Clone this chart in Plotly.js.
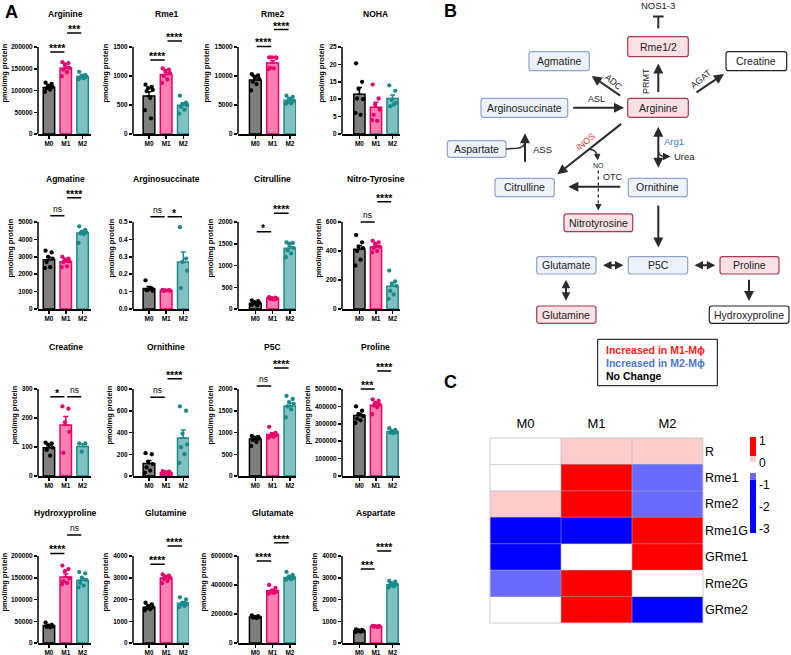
<!DOCTYPE html>
<html><head><meta charset="utf-8">
<script src="https://cdn.plot.ly/plotly-3.0.1.min.js"></script>
<style>html,body{margin:0;padding:0;background:#fff}#chart{width:791px;height:655px}</style>
</head><body><div id="chart"></div>
<script>
const W=791,H=655;
const FONT='Liberation Sans, Arial, sans-serif';
const groups=['M0','M1','M2'];

// ---------- Panel A data ----------
const titles=['Arginine','Rme1','Rme2','NOHA','Agmatine','Arginosuccinate','Citrulline','Nitro-Tyrosine','Creatine','Ornithine','P5C','Proline','Hydroxyproline','Glutamine','Glutamate','Aspartate'];
const yMax=[200000,1500,15000,25,5000,0.5,2000,600,300,800,2000,500000,200000,4000,600000,4000];
const yStep=[50000,500,5000,5,1000,0.1,500,200,100,200,500,100000,50000,1000,200000,1000];
const barM0=[107000,655,9300,11.4,2830,0.118,135,412,97,116,850,347000,40000,1640,180000,560];
const barM1=[151000,1025,12250,7.7,2720,0.107,247,428,176,30,955,407000,152000,2985,360000,760];
const barM2=[132000,496,5820,10.2,4370,0.27,1395,157,102,349,1610,256000,144000,1830,452000,2690];
const ptsM0=[
 [118000,115000,111000,108000,105000,102000,97000],
 [850,810,790,760,740,620,410,270],
 [10300,10100,9900,9500,9000,8600,7500],
 [20.3,15.0,13.0,10.0,10.2,5.5,6.0],
 [3350,3250,3000,2900,2700,2400,2350],
 [0.165,0.118,0.11,0.105,0.108],
 [200,180,160,140,120,100,90,80],
 [510,460,430,420,400,340,300],
 [115,112,108,98,90,70],
 [210,200,130,110,80,50,30],
 [920,900,880,860,830,780,690],
 [400000,375000,355000,345000,330000,320000,305000],
 [47000,42000,40000,38000,37000,36000],
 [1850,1780,1700,1650,1600,1550,1500],
 [190000,185000,180000,178000,175000,172000],
 [620,600,580,560,540,520,500]];
const ptsM1=[
 [165000,163000,160000,152000,148000,142000,133000],
 [1130,1110,1090,1050,1000,940,880],
 [13200,13200,13200,13100,11400,11300,11200],
 [14.2,10.2,8.5,7.0,5.5,3.8,4.0],
 [3000,2900,2850,2750,2700,2450,2400],
 [0.11,0.108,0.107,0.105,0.104],
 [270,260,250,240,230,220],
 [470,460,450,430,420,400,390],
 [240,232,185,152,80],
 [45,40,35,30,25,20,18],
 [1130,990,960,940,920,900,880],
 [440000,432000,420000,412000,405000,395000,355000],
 [178000,170000,165000,148000,142000,138000,135000],
 [3150,3100,3050,3000,2950,2850,2750],
 [400000,380000,362000,355000,350000,345000,340000],
 [790,780,770,760,750,740]];
const ptsM2=[
 [143000,136000,134000,132000,130000,128000,126000],
 [660,540,520,500,470,420,350],
 [6600,6400,6100,5700,5500,5300,5200],
 [14.0,12.4,9.8,9.0,8.0,8.5],
 [4750,4550,4450,4400,4350,4300,3800],
 [0.47,0.29,0.27,0.22,0.12],
 [1530,1520,1500,1400,1350,1280,1190],
 [265,190,175,160,125,100,70],
 [112,112,84],
 [640,600,390,290,265,200,120],
 [1840,1770,1700,1660,1600,1530,1350],
 [275000,265000,258000,252000,248000,245000],
 [163000,160000,150000,145000,138000,132000,128000],
 [2100,2000,1850,1800,1750,1700,1650],
 [490000,470000,460000,450000,445000,440000,435000],
 [2850,2820,2750,2700,2650,2600,2550]];
// significance: [from, to, label, level]
const sigs=[
 [[0,1,'****',188500],[1,2,'***',232000]],
 [[0,1,'****',1276],[1,2,'****',1603]],
 [[0,1,'****',15100],[1,2,'****',18000]],
 [],
 [[0,1,'ns',5362],[1,2,'****',6397]],
 [[0,1,'ns',0.53],[1,2,'*',0.53]],
 [[0,1,'*',1777],[1,2,'****',2200]],
 [[0,1,'ns',600],[1,2,'****',740]],
 [[0,1,'*',273],[1,2,'ns',273]],
 [[0,1,'ns',725],[1,2,'****',894]],
 [[0,1,'ns',2069],[1,2,'****',2483]],
 [[0,1,'***',500000],[1,2,'****',603000]],
 [[0,1,'****',206000],[1,2,'ns',248000]],
 [[0,1,'****',3618],[1,2,'****',4460]],
 [[0,1,'****',565000],[1,2,'****',692000]],
 [[0,1,'***',3400],[1,2,'****',4230]]];

// ---------- Panel C data ----------
const hmCols=['M0','M1','M2'];
const hmRows=['R','Rme1','Rme2','Rme1G','GRme1','Rme2G','GRme2'];
const hmZ=[[-0.25,0.1,0.1],[-0.25,1,-0.6],[0.1,1,-0.6],[-3,-3,1],[-3,-0.25,1],[-0.6,1,-0.25],[-0.25,1,-3]];
const cbTicks=[1,0,-1,-2,-3];

// ---------- Panel B text ----------
const legendLines=['Increased in M1-Mϕ','Increased in M2-Mϕ','No Change'];

// ---------- layout helpers ----------
const data=[],shapes=[],annotations=[];
const layout={width:W,height:H,margin:{l:0,r:0,t:0,b:0,pad:0},showlegend:false,paper_bgcolor:'#ffffff',plot_bgcolor:'rgba(0,0,0,0)',barmode:'overlay',font:{family:FONT,color:'#000'},shapes:shapes,annotations:annotations,hovermode:false};
const colPx=[[38,91],[133,189],[238,296],[342,400]];
const colRange=[[-0.65,2.5],[-0.93,2.33],[-1.0,2.35],[-1.05,2.45]];
const rowZero=[134,309,476,643];
const titleY=[14,179,347,513];
const F=1.4;
const fillC=['#7f7f7f','#ff80b0','#80c0c0'];
const lineC=['#000000','#e8006f','#1b8a8a'];
const JIT=[-0.2,0.16,-0.05,0.22,-0.14,0.07,-0.24,0.12,0.0];
const ptsAll=[ptsM0,ptsM1,ptsM2], barsAll=[barM0,barM1,barM2];
function sem(a){const n=a.length,m=a.reduce((s,v)=>s+v,0)/n;const sd=Math.sqrt(a.reduce((s,v)=>s+(v-m)*(v-m),0)/(n-1));return sd/Math.sqrt(n);}

for(let i=0;i<16;i++){
  const n=i+1,s=n===1?'':String(n);
  const r=Math.floor(i/4),c=i%4;
  const xk='x'+s,yk='y'+s;
  const z=rowZero[r],top=z-87*F;
  layout['xaxis'+s]={domain:[colPx[c][0]/W,colPx[c][1]/W],anchor:yk,range:colRange[c],tickvals:[0,1,2],ticktext:groups,
    ticks:'outside',ticklen:3,tickwidth:1.5,tickcolor:'#000',showline:true,linewidth:1.5,linecolor:'#000',showgrid:false,zeroline:false,
    tickfont:{size:6.5,family:FONT,weight:700},fixedrange:true};
  const tv=[],tt=[];
  const nt=Math.round(yMax[i]/yStep[i]);
  for(let k=0;k<=nt;k++){const v=k*yStep[i];tv.push(v);tt.push(yStep[i]<1?v.toFixed(1):String(Math.round(v)));}
  layout['yaxis'+s]={domain:[1-z/H,1-top/H],anchor:xk,range:[0,yMax[i]*F],tickvals:tv,ticktext:tt,ticks:'outside',ticklen:3,tickwidth:1.5,tickcolor:'#000',
    showline:false,showgrid:false,zeroline:false,tickfont:{size:6.5,family:FONT,weight:700},fixedrange:true,
    title:{text:'pmol/mg protein',font:{size:7.5,family:FONT,weight:700},standoff:3}};
  shapes.push({type:'line',xref:xk+' domain',yref:yk,x0:0,x1:0,y0:0,y1:yMax[i],line:{color:'#000',width:1.5}});
  for(let g=0;g<3;g++){
    const pts=ptsAll[g][i];
    data.push({type:'bar',x:[g],y:[barsAll[g][i]],width:0.68,xaxis:xk,yaxis:yk,
      marker:{color:fillC[g],line:{color:lineC[g],width:1.5}},
      error_y:{type:'data',array:[sem(pts)],arrayminus:[0],symmetric:false,color:lineC[g],thickness:1.5,width:2.5}});
    data.push({type:'scatter',mode:'markers',x:pts.map((v,k)=>g+JIT[k%JIT.length]),y:pts,xaxis:xk,yaxis:yk,cliponaxis:false,
      marker:{size:4.3,color:lineC[g]}});
  }
  for(const [a,b,t,lv] of sigs[i]){
    shapes.push({type:'line',xref:xk,yref:yk,x0:a+0.08,x1:b-0.08,y0:lv,y1:lv,line:{color:'#000',width:1.5}});
    const ns=t==='ns';
    annotations.push({xref:xk,yref:yk,x:(a+b)/2,y:lv,text:t,showarrow:false,yanchor:'bottom',yshift:ns?0:-4,
      font:{size:ns?8.5:10.5,family:FONT,weight:ns?400:700}});
  }
  annotations.push({xref:xk,yref:'paper',x:1,y:1-titleY[r]/H,text:titles[i],showarrow:false,yanchor:'middle',font:{size:8.5,family:FONT,weight:700}});
}

// ---------- Heatmap (C) ----------
const zmin=-3.2,zmax=1.15,sp=zmax-zmin,t=v=>(v-zmin)/sp;
data.push({type:'heatmap',x:hmCols,y:hmRows,z:hmZ,xaxis:'x17',yaxis:'y17',zmin:zmin,zmax:zmax,
  colorscale:[[0,'#0000ff'],[t(-0.8),'#0000ff'],[t(-0.8),'#6a6aff'],[t(-0.5),'#6a6aff'],[t(-0.5),'#ffffff'],[t(0),'#ffffff'],[t(0),'#ffcccc'],[t(0.3),'#ffcccc'],[t(0.3),'#ff0000'],[1,'#ff0000']],
  colorbar:{x:750/W,xanchor:'left',y:1-485/H,yanchor:'middle',lenmode:'pixels',len:96,thickness:6,outlinewidth:0,xpad:0,ypad:0,
    tickvals:cbTicks,ticktext:cbTicks.map(String),ticks:'',tickfont:{size:12,family:FONT}}});
layout.xaxis17={domain:[490/W,703/W],anchor:'y17',side:'top',ticks:'',showline:false,showgrid:false,zeroline:false,tickfont:{size:13,family:FONT},ticklabelstandoff:6,fixedrange:true};
layout.yaxis17={domain:[1-623/H,1-438/H],anchor:'x17',side:'right',autorange:'reversed',ticks:'',showline:false,showgrid:false,zeroline:false,tickfont:{size:12.5,family:FONT},ticklabelstandoff:1,fixedrange:true};
// cell separators
const GRID='rgba(170,170,190,0.55)';
for(let k=0;k<hmCols.length-1;k++) shapes.push({type:'line',xref:'x17',yref:'y17 domain',x0:k+0.5,x1:k+0.5,y0:0,y1:1,line:{color:GRID,width:1}});
for(let k=0;k<hmRows.length-1;k++) shapes.push({type:'line',xref:'x17 domain',yref:'y17',x0:0,x1:1,y0:k+0.5,y1:k+0.5,line:{color:GRID,width:1}});
shapes.push({type:'rect',xref:'x17 domain',yref:'y17 domain',x0:0,x1:1,y0:0,y1:1,line:{color:'rgba(200,200,210,0.9)',width:1}});

// ---------- Diagram (B) ----------
const px=x=>x/W, py=y=>1-y/H;
const Pp=(x,y)=>px(x).toFixed(5)+','+py(y).toFixed(5);
function rrect(x0,y0,x1,y1,r){
  return 'M'+Pp(x0+r,y0)+' L'+Pp(x1-r,y0)+' Q'+Pp(x1,y0)+' '+Pp(x1,y0+r)+' L'+Pp(x1,y1-r)+' Q'+Pp(x1,y1)+' '+Pp(x1-r,y1)+
   ' L'+Pp(x0+r,y1)+' Q'+Pp(x0,y1)+' '+Pp(x0,y1-r)+' L'+Pp(x0,y0+r)+' Q'+Pp(x0,y0)+' '+Pp(x0+r,y0)+' Z';
}
const STY={red:['#f9e1e5','#a53a52'],blue:['#eef2fa','#8fa3cf'],white:['#ffffff','#222222']};
function box(x0,y0,x1,y1,sty,text){
  shapes.push({type:'path',xref:'paper',yref:'paper',path:rrect(x0,y0,x1,y1,2.5),fillcolor:STY[sty][0],line:{color:STY[sty][1],width:1.2}});
  annotations.push({xref:'paper',yref:'paper',x:px((x0+x1)/2),y:py((y0+y1)/2),text:text,showarrow:false,xanchor:'center',yanchor:'middle',font:{size:10.5,family:FONT,color:'#222'}});
}
function label(x,y,text,opt){
  opt=opt||{};
  annotations.push({xref:'paper',yref:'paper',x:px(x),y:py(y),text:text,showarrow:false,xanchor:opt.anchor||'center',yanchor:'middle',textangle:opt.angle||0,
    font:{size:opt.size||9.5,family:FONT,color:opt.color||'#222',weight:opt.weight||400}});
}
function arrow(tx,ty,hx,hy,both,w,sz){
  annotations.push({xref:'paper',yref:'paper',x:px(hx),y:py(hy),ax:tx-hx,ay:ty-hy,axref:'pixel',ayref:'pixel',text:'',showarrow:true,
    arrowhead:2,startarrowhead:2,arrowsize:sz||1,startarrowsize:sz||1,arrowwidth:w||2,arrowcolor:'#2b2b2b',standoff:0,startstandoff:0,arrowside:both?'end+start':'end'});
}
function line(x0,y0,x1,y1,w,dash){shapes.push({type:'line',xref:'paper',yref:'paper',x0:px(x0),y0:py(y0),x1:px(x1),y1:py(y1),line:{color:'#2b2b2b',width:w||2,dash:dash||'solid'}});}
function curve(path){shapes.push({type:'path',xref:'paper',yref:'paper',path:path,line:{color:'#2b2b2b',width:1.5}});}

box(627.7,36.7,688.3,56.7,'red','Rme1/2');
box(529,51.7,589.3,70.7,'blue','Agmatine');
box(726,51.7,786.7,70.7,'white','Creatine');
box(481,98.3,567.7,117.3,'blue','Arginosuccinate');
box(627.7,98.3,688.3,117.3,'red','Arginine');
box(447.3,140.7,506,157.3,'blue','Aspartate');
box(495,178.3,554.3,196.7,'blue','Citrulline');
box(628.3,178.3,687.3,196.7,'blue','Ornithine');
box(564,213.8,632.7,231.7,'red','Nitrotyrosine');
box(536.7,256.7,596,274,'blue','Glutamate');
box(628.3,256.7,687.7,274,'blue','P5C');
box(720,256.7,779,274,'red','Proline');
box(536.7,306,596,323.3,'red','Glutamine');
box(709.3,306,789,323.3,'white','Hydroxyproline');

// NOS1-3 inhibition
label(658.3,6,'NOS1-3',{size:9.5});
line(653,16.5,663.6,16.5,2); line(658.3,16.5,658.3,28.5,2);
// arrows
arrow(658.3,93.5,658.3,63.5);
label(646.5,81.5,'PRMT',{angle:-90,size:9});
arrow(621.7,96.7,591.7,76);
label(613.5,82,'ADC',{angle:40,size:9});
arrow(695,93.3,724,74);
label(701,79,'AGAT',{angle:-40,size:9});
arrow(571.7,107.7,624,107.7);
label(596,99,'ASL',{size:9});
arrow(622.7,122.7,557.3,174.3);
label(585.5,142,'iNOS',{angle:-40,size:9,color:'#e53935'});
// NO branch
curve('M'+Pp(589.5,149.5)+' Q'+Pp(596,149)+' '+Pp(597.3,156.5));
arrow(597.3,155.5,597.8,160.5,false,1.3);
label(598.3,165.5,'NO',{size:7});
line(598.3,170.5,598.3,206,1.3,'dot');
arrow(598.3,205,598.3,210.5,false,1.3);
// OTC
arrow(621.7,186.7,568.3,186.7);
label(612.5,177.3,'OTC',{size:9});
// Arg1
arrow(658.3,169.3,658.3,126.7,true);
label(661.5,141.7,'Arg1',{size:9.5,color:'#3b82d6',anchor:'left'});
curve('M'+Pp(658.3,151.5)+' Q'+Pp(659,156.5)+' '+Pp(665,156.5));
arrow(664,156.5,670.5,156.5,false,1.5);
label(671.5,156.7,'Urea',{size:9.5,anchor:'left'});
// ASS
arrow(525,163.3,525,133.3);
curve('M'+Pp(506,149)+' L'+Pp(517,148.3)+' Q'+Pp(524.5,147.5)+' '+Pp(525,142));
label(531,149,'ASS',{size:9.5,anchor:'left'});
// lower part
arrow(658.3,204,658.3,247.5);
arrow(601.5,265.3,623.5,265.3,true,2,0.85);
arrow(693,265.3,715.3,265.3,true,2,0.85);
arrow(566,278.3,566,300.7,true,2,0.85);
arrow(749,278.3,749,301);

// legend box
shapes.push({type:'rect',xref:'paper',yref:'paper',x0:px(597.7),x1:px(717.3),y0:py(339.3),y1:py(385.7),line:{color:'#000',width:1},fillcolor:'#fff'});
const legC=['#ff1a1a','#4a78d0','#000000'];
legendLines.forEach((tx,k)=>label(603.5,349.5+13.3*k,tx,{anchor:'left',size:10.5,weight:700,color:legC[k]}));

// panel letters
label(11,12,'A',{size:18,weight:700,color:'#000'});
label(450,11,'B',{size:18,weight:700,color:'#000'});
label(450,382,'C',{size:18,weight:700,color:'#000'});

Plotly.newPlot('chart',data,layout,{staticPlot:true,displayModeBar:false});
</script></body></html>
